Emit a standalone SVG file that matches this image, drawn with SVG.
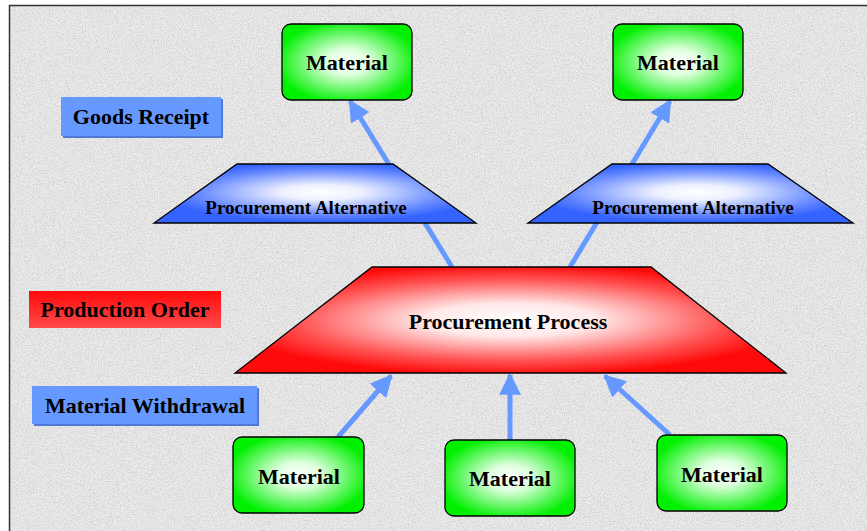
<svg xmlns="http://www.w3.org/2000/svg" width="867" height="531" viewBox="0 0 867 531">
<defs>
  <filter id="noise" x="0" y="0" width="100%" height="100%">
    <feTurbulence type="fractalNoise" baseFrequency="0.75" numOctaves="2" seed="3" result="t"/>
    <feColorMatrix in="t" type="matrix" values="0 0 0 0 0.6  0 0 0 0 0.6  0 0 0 0 0.6  0 0 0 -2.2 1.35" result="n"/>
    <feComposite in="n" in2="SourceGraphic" operator="in"/>
  </filter>
  <radialGradient id="gGreen" cx="50%" cy="50%" r="55%">
    <stop offset="0" stop-color="#ffffff"/>
    <stop offset="0.3" stop-color="#e0ffe0"/>
    <stop offset="1" stop-color="#00f000"/>
  </radialGradient>
  <radialGradient id="gBlue" cx="52%" cy="48%" r="50%">
    <stop offset="0" stop-color="#ffffff"/>
    <stop offset="0.25" stop-color="#eef1ff"/>
    <stop offset="0.75" stop-color="#6a8cff"/>
    <stop offset="1" stop-color="#3463ff"/>
  </radialGradient>
  <radialGradient id="gRed" cx="50%" cy="50%" r="52%">
    <stop offset="0" stop-color="#ffffff"/>
    <stop offset="0.3" stop-color="#ffe8e8"/>
    <stop offset="0.75" stop-color="#ff5050"/>
    <stop offset="1" stop-color="#ff0a0a"/>
  </radialGradient>
  <linearGradient id="gRedLbl" x1="0" y1="0" x2="0" y2="1">
    <stop offset="0" stop-color="#ff0a0a"/>
    <stop offset="1" stop-color="#ff4a4a"/>
  </linearGradient>
  <marker id="arr" viewBox="0 0 10 10" refX="9" refY="5" markerWidth="4.4" markerHeight="4.4" orient="auto" markerUnits="strokeWidth">
    <path d="M0,0 L10,5 L0,10 z" fill="#6699ff"/>
  </marker>
</defs>
<style>
  .mat rect { fill: url(#gGreen); stroke: #000; stroke-width: 1.3; }
  .txt { font-family: "Liberation Serif", "Times New Roman", serif; font-weight: bold; fill: #000; text-anchor: middle; }
  .t22 { font-size: 22px; }
  .t19 { font-size: 19px; }
  .alt polygon { fill: url(#gBlue); stroke: #000; stroke-width: 1.3; }
  .proc polygon { fill: url(#gRed); stroke: #000; stroke-width: 1.3; }
  .conn line { stroke: #6699ff; stroke-width: 5; marker-end: url(#arr); }
  .lblBlue { fill: #6699ff; }
  .shadowBlue { fill: #4f78d8; }
</style>
<rect x="0" y="0" width="867" height="531" fill="#ffffff"/>
<rect x="9" y="5" width="858" height="526" fill="#ececec"/>
<rect x="9" y="5" width="858" height="526" fill="#ffffff" filter="url(#noise)"/>
<path d="M9.5,531 V5.5 H867" fill="none" stroke="#333" stroke-width="1.5"/>

<g id="connectors" class="conn">
  <line x1="452" y1="267" x2="350" y2="101"/>
  <line x1="570" y1="267" x2="670" y2="101"/>
  <line x1="338" y1="437" x2="391" y2="376"/>
  <line x1="510" y1="440" x2="510" y2="375"/>
  <line x1="670" y1="435" x2="605" y2="376"/>
</g>

<g id="label-goods-receipt">
  <rect class="shadowBlue" x="63" y="99" width="160" height="39"/>
  <rect class="lblBlue" x="61" y="97" width="160" height="39"/>
  <text class="txt t22" x="141" y="124">Goods Receipt</text>
</g>
<g id="label-production-order">
  <rect x="29" y="291" width="192" height="37" fill="url(#gRedLbl)"/>
  <text class="txt t22" x="125" y="317">Production Order</text>
</g>
<g id="label-material-withdrawal">
  <rect class="shadowBlue" x="34" y="388" width="225" height="38"/>
  <rect class="lblBlue" x="32" y="386" width="225" height="38"/>
  <text class="txt t22" x="145" y="413">Material Withdrawal</text>
</g>

<g id="material-top-left" class="mat">
  <rect x="282" y="24" width="130" height="76" rx="9"/>
  <text class="txt t22" x="347" y="70">Material</text>
</g>
<g id="material-top-right" class="mat">
  <rect x="613" y="24" width="130" height="76" rx="9"/>
  <text class="txt t22" x="678" y="70">Material</text>
</g>

<g id="alt-left" class="alt">
  <polygon points="237,164 393,164 476,223 154,223"/>
  <text class="txt t19" x="306" y="214">Procurement Alternative</text>
</g>
<g id="alt-right" class="alt">
  <polygon points="612,164 768,164 853,223 528,223"/>
  <text class="txt t19" x="693" y="214">Procurement Alternative</text>
</g>

<g id="procurement-process" class="proc">
  <polygon points="372,267 651,267 786,373 235,373"/>
  <text class="txt t22" x="508" y="329">Procurement Process</text>
</g>

<g id="material-bottom-1" class="mat">
  <rect x="233" y="437" width="131" height="76" rx="9"/>
  <text class="txt t22" x="299" y="484">Material</text>
</g>
<g id="material-bottom-2" class="mat">
  <rect x="445" y="440" width="130" height="76" rx="9"/>
  <text class="txt t22" x="510" y="486">Material</text>
</g>
<g id="material-bottom-3" class="mat">
  <rect x="657" y="435" width="130" height="76" rx="9"/>
  <text class="txt t22" x="722" y="482">Material</text>
</g>
</svg>
